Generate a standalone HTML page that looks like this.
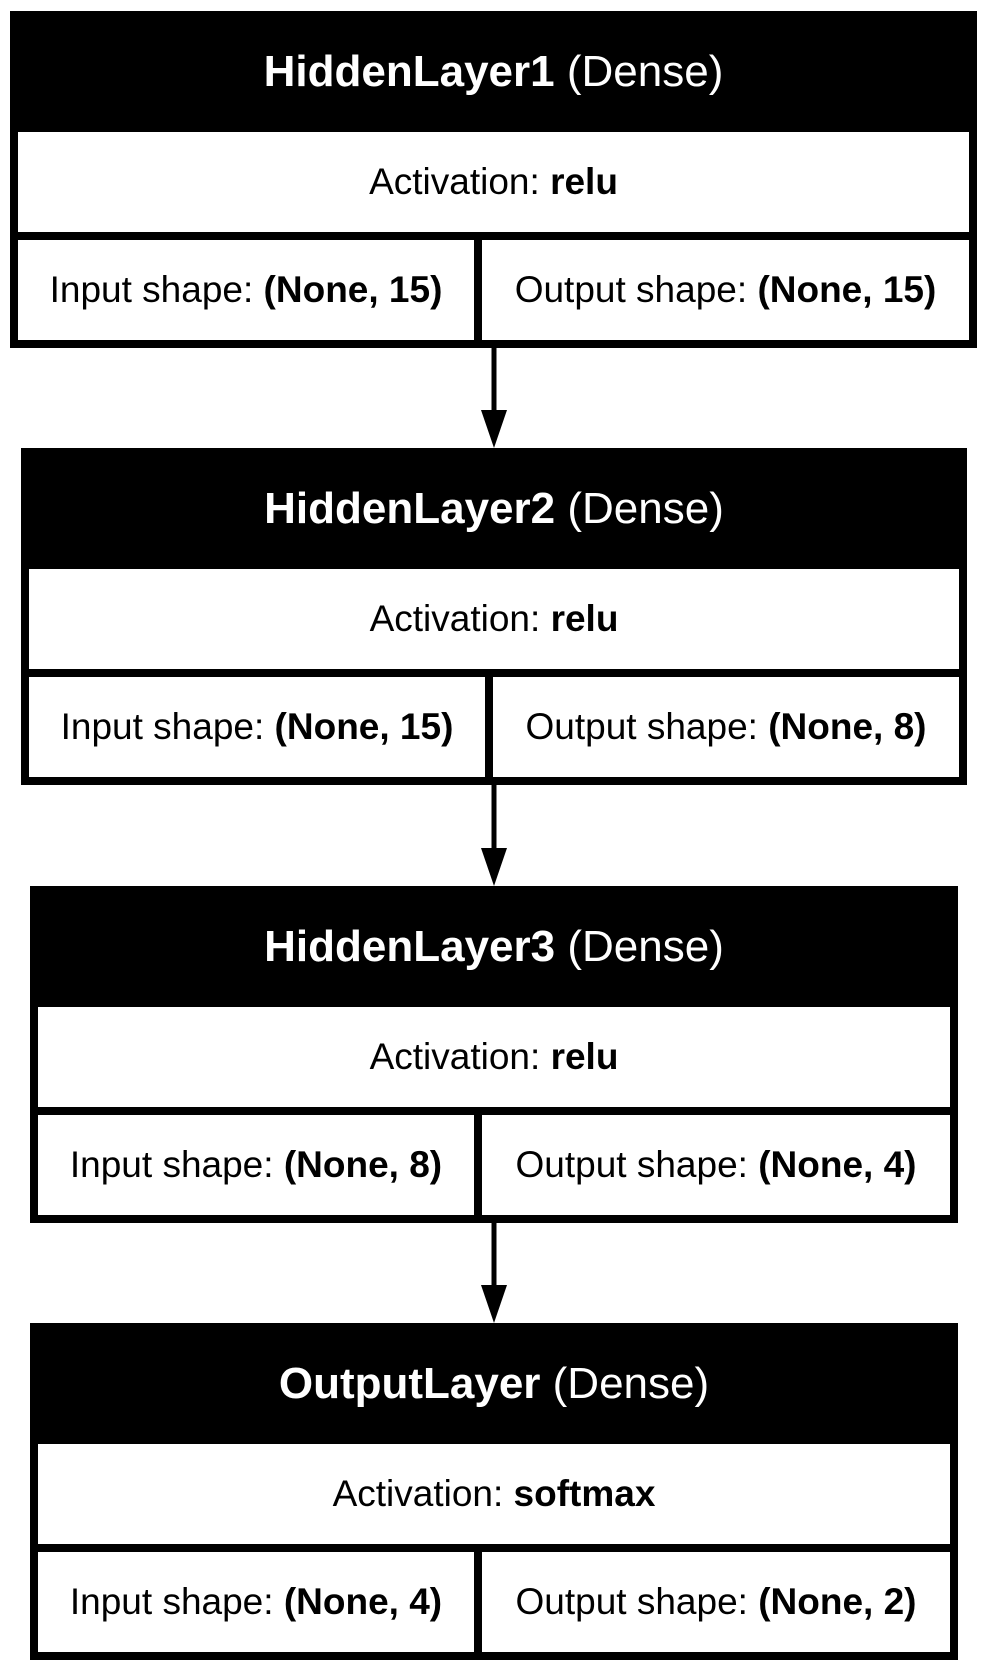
<!DOCTYPE html>
<html><head><meta charset="utf-8"><style>
html,body{margin:0;padding:0;background:#fff;width:988px;height:1672px;overflow:hidden}
body{position:relative;font-family:"Liberation Sans",Arial,sans-serif}
.box{position:absolute;background:#000;height:337px}
.hd{position:absolute;left:0;right:0;top:0;height:121px;display:flex;align-items:center;justify-content:center;color:#fff;font-size:44px;white-space:nowrap}
.c{position:absolute;background:#fff;display:flex;align-items:center;justify-content:center;font-size:37px;color:#000;white-space:nowrap}
b{font-weight:bold}
svg{position:absolute;left:0;top:0}
</style></head><body>

<div class="box" style="left:10px;top:11px;width:967px">
 <div class="hd"><span><b>HiddenLayer1</b> (Dense)</span></div>
 <div class="c" style="left:8px;top:121px;width:951px;height:100px"><span>Activation: <b>relu</b></span></div>
 <div class="c" style="left:8px;top:229px;width:456px;height:100px"><span>Input shape: <b>(None, 15)</b></span></div>
 <div class="c" style="left:472px;top:229px;width:487px;height:100px"><span>Output shape: <b>(None, 15)</b></span></div>
</div>

<div class="box" style="left:21px;top:448px;width:946px">
 <div class="hd"><span><b>HiddenLayer2</b> (Dense)</span></div>
 <div class="c" style="left:8px;top:121px;width:930px;height:100px"><span>Activation: <b>relu</b></span></div>
 <div class="c" style="left:8px;top:229px;width:456px;height:100px"><span>Input shape: <b>(None, 15)</b></span></div>
 <div class="c" style="left:472px;top:229px;width:466px;height:100px"><span>Output shape: <b>(None, 8)</b></span></div>
</div>

<div class="box" style="left:30px;top:886px;width:928px">
 <div class="hd"><span><b>HiddenLayer3</b> (Dense)</span></div>
 <div class="c" style="left:8px;top:121px;width:912px;height:100px"><span>Activation: <b>relu</b></span></div>
 <div class="c" style="left:8px;top:229px;width:436px;height:100px"><span>Input shape: <b>(None, 8)</b></span></div>
 <div class="c" style="left:452px;top:229px;width:468px;height:100px"><span>Output shape: <b>(None, 4)</b></span></div>
</div>

<div class="box" style="left:30px;top:1323px;width:928px">
 <div class="hd"><span><b>OutputLayer</b> (Dense)</span></div>
 <div class="c" style="left:8px;top:121px;width:912px;height:100px"><span>Activation: <b>softmax</b></span></div>
 <div class="c" style="left:8px;top:229px;width:436px;height:100px"><span>Input shape: <b>(None, 4)</b></span></div>
 <div class="c" style="left:452px;top:229px;width:468px;height:100px"><span>Output shape: <b>(None, 2)</b></span></div>
</div>

<svg width="988" height="1672">
 <rect x="491.5" y="348" width="5" height="64" fill="#000"/>
 <polygon points="481,410 507,410 494,448" fill="#000"/>
 <rect x="491.5" y="785" width="5" height="64" fill="#000"/>
 <polygon points="481,848 507,848 494,886" fill="#000"/>
 <rect x="491.5" y="1223" width="5" height="64" fill="#000"/>
 <polygon points="481,1285 507,1285 494,1323" fill="#000"/>
</svg>
</body></html>
